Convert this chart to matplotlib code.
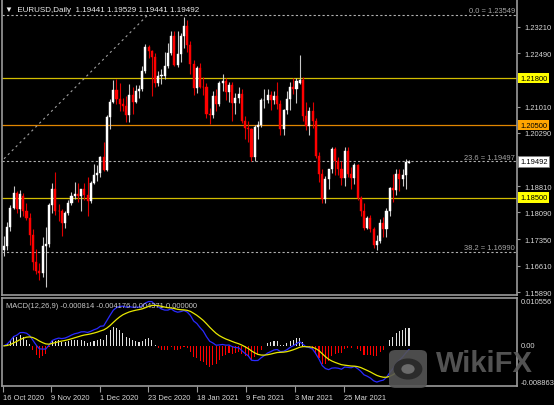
import numpy as np
import matplotlib
matplotlib.use('Agg')
import matplotlib.pyplot as plt
import matplotlib.transforms as mtransforms
from matplotlib.patches import FancyBboxPatch, Circle

plt.rcParams['font.family'] = ['Liberation Sans', 'DejaVu Sans']

# EURUSD daily, 16 Oct 2020 .. 14 Apr 2021
opens = [1.1705, 1.1717, 1.1768, 1.1822, 1.1862, 1.1817, 1.1855, 1.1812, 1.1794, 1.1747,
         1.1673, 1.1646, 1.1642, 1.1717, 1.1722, 1.1828, 1.1874, 1.1813, 1.1812, 1.1779,
         1.1808, 1.1834, 1.1855, 1.1859, 1.1853, 1.1874, 1.1857, 1.1840, 1.1890, 1.1913,
         1.1917, 1.1962, 1.1926, 1.2072, 1.2113, 1.2146, 1.2121, 1.2107, 1.2104, 1.2079,
         1.2133, 1.2113, 1.2145, 1.2150, 1.2200, 1.2266, 1.2255, 1.2237, 1.2165, 1.2187,
         1.2187, 1.2214, 1.2248, 1.2297, 1.2216, 1.2247, 1.2297, 1.2325, 1.2271, 1.2220,
         1.2152, 1.2208, 1.2156, 1.2155, 1.2081, 1.2078, 1.2131, 1.2107, 1.2165, 1.2171,
         1.2141, 1.2162, 1.2112, 1.2125, 1.2137, 1.2061, 1.2042, 1.2038, 1.1963, 1.2045,
         1.2051, 1.2118, 1.2119, 1.2134, 1.2120, 1.2130, 1.2107, 1.2038, 1.2091, 1.2122,
         1.2156, 1.2150, 1.2167, 1.2175, 1.2075, 1.2048, 1.2090, 1.2062, 1.1966, 1.1915,
         1.1847, 1.1900, 1.1928, 1.1985, 1.1952, 1.1929, 1.1903, 1.1978, 1.1914, 1.1904,
         1.1939, 1.1850, 1.1813, 1.1765, 1.1793, 1.1763, 1.1718, 1.1730, 1.1780, 1.1763,
         1.1813, 1.1875, 1.1871, 1.1915, 1.1901, 1.1911, 1.19441]
highs = [1.1744, 1.1782, 1.1829, 1.1881, 1.1867, 1.1871, 1.1862, 1.1834, 1.1807, 1.1763,
         1.1709, 1.1670, 1.1740, 1.1769, 1.1834, 1.1891, 1.1920, 1.1832, 1.1819, 1.1814,
         1.1843, 1.1865, 1.1893, 1.1891, 1.1874, 1.1889, 1.1906, 1.1897, 1.1942, 1.1941,
         1.1965, 1.2003, 1.2077, 1.2122, 1.2175, 1.2178, 1.2166, 1.2124, 1.2130, 1.2163,
         1.2155, 1.2162, 1.2160, 1.2212, 1.2273, 1.2272, 1.2258, 1.2249, 1.2200, 1.2205,
         1.2251, 1.2276, 1.2311, 1.2310, 1.2310, 1.2305, 1.2349, 1.2339, 1.2282, 1.2230,
         1.2212, 1.2222, 1.2183, 1.2166, 1.2097, 1.2145, 1.2150, 1.2173, 1.2190, 1.2180,
         1.2170, 1.2168, 1.2140, 1.2155, 1.2150, 1.2076, 1.2060, 1.2042, 1.2050, 1.2060,
         1.2125, 1.2150, 1.2150, 1.2144, 1.2145, 1.2169, 1.2120, 1.2095, 1.2144, 1.2169,
         1.2180, 1.2180, 1.2243, 1.2184, 1.2113, 1.2100, 1.2114, 1.2070, 1.1977, 1.1928,
         1.1910, 1.1929, 1.1990, 1.1990, 1.1961, 1.1952, 1.1989, 1.1990, 1.1935, 1.1945,
         1.1943, 1.1853, 1.1836, 1.1799, 1.1802, 1.1769, 1.1747, 1.1791, 1.1795, 1.1820,
         1.1880, 1.1914, 1.1928, 1.1928, 1.1929, 1.1956, 1.19529]
lows = [1.1689, 1.1704, 1.1758, 1.1817, 1.1806, 1.1797, 1.1799, 1.1788, 1.1718, 1.1650,
        1.1640, 1.1622, 1.1630, 1.1602, 1.1712, 1.1806, 1.1801, 1.1785, 1.1745, 1.1766,
        1.1803, 1.1829, 1.1845, 1.1838, 1.1814, 1.1842, 1.1800, 1.1834, 1.1886, 1.1895,
        1.1908, 1.1923, 1.1924, 1.2040, 1.2110, 1.2109, 1.2088, 1.2090, 1.2059, 1.2059,
        1.2082, 1.2112, 1.2126, 1.2145, 1.2195, 1.2234, 1.2130, 1.2155, 1.2158, 1.2163,
        1.2177, 1.2207, 1.2244, 1.2212, 1.2210, 1.2224, 1.2264, 1.2253, 1.2192, 1.2132,
        1.2138, 1.2152, 1.2132, 1.2071, 1.2053, 1.2070, 1.2088, 1.2102, 1.2143, 1.2118,
        1.2115, 1.2061, 1.2080, 1.2112, 1.2055, 1.2011, 1.2003, 1.1951, 1.1952, 1.2011,
        1.2045, 1.2096, 1.2110, 1.2092, 1.2108, 1.2095, 1.2023, 1.2022, 1.2080, 1.2091,
        1.2136, 1.2112, 1.2164, 1.2062, 1.2036, 1.2023, 1.2043, 1.1958, 1.1893, 1.1836,
        1.1835, 1.1874, 1.1918, 1.1912, 1.1913, 1.1884, 1.1883, 1.1906, 1.1873, 1.1887,
        1.1842, 1.1800, 1.1761, 1.1762, 1.1754, 1.1711, 1.1704, 1.1724, 1.1740, 1.1742,
        1.1799, 1.1839, 1.1856, 1.1869, 1.1883, 1.1874, 1.19441]
closes = [1.1717, 1.1768, 1.1822, 1.1862, 1.1817, 1.1860, 1.1812, 1.1794, 1.1747, 1.1673,
          1.1646, 1.1642, 1.1717, 1.1722, 1.1828, 1.1874, 1.1813, 1.1812, 1.1779, 1.1808,
          1.1834, 1.1855, 1.1859, 1.1853, 1.1874, 1.1857, 1.1840, 1.1890, 1.1913, 1.1917,
          1.1962, 1.1926, 1.2072, 1.2113, 1.2146, 1.2121, 1.2107, 1.2104, 1.2079, 1.2133,
          1.2113, 1.2145, 1.2150, 1.2200, 1.2266, 1.2255, 1.2237, 1.2165, 1.2187, 1.2187,
          1.2214, 1.2248, 1.2297, 1.2216, 1.2247, 1.2297, 1.2325, 1.2271, 1.2220, 1.2152,
          1.2208, 1.2156, 1.2155, 1.2081, 1.2078, 1.2131, 1.2107, 1.2165, 1.2171, 1.2141,
          1.2162, 1.2112, 1.2125, 1.2137, 1.2061, 1.2042, 1.2038, 1.1963, 1.2045, 1.2051,
          1.2118, 1.2119, 1.2134, 1.2120, 1.2130, 1.2107, 1.2038, 1.2091, 1.2122, 1.2156,
          1.2150, 1.2171, 1.2175, 1.2075, 1.2048, 1.2090, 1.2062, 1.1966, 1.1915, 1.1847,
          1.1900, 1.1928, 1.1985, 1.1952, 1.1929, 1.1903, 1.1978, 1.1914, 1.1904, 1.1939,
          1.1850, 1.1813, 1.1765, 1.1793, 1.1763, 1.1718, 1.1730, 1.1780, 1.1763, 1.1813,
          1.1875, 1.1871, 1.1915, 1.1901, 1.1911, 1.1947, 1.19492]

date_labels = ['16 Oct 2020', '9 Nov 2020', '1 Dec 2020', '23 Dec 2020',
               '18 Jan 2021', '9 Feb 2021', '3 Mar 2021', '25 Mar 2021']
date_pos = [-0.3, 14.6, 29.9, 44.8, 60.0, 75.3, 90.5, 105.8]

price_ticks = [1.23210, 1.22490, 1.21010, 1.20290, 1.18810, 1.18090, 1.17350, 1.16610, 1.15890]
level_prices = [1.21800, 1.20500, 1.18500]
level_line_colors = ['#d2bd00', '#e08600', '#d2bd00']
level_box_colors = ['#ffff00', '#ffa500', '#ffff00']
fib_prices = [1.23549, 1.19497, 1.16990]
fib_names = ['0.0', '23.6', '38.2']
fib_trend_x = [0.0, 44.8]
fib_trend_y = [1.1957, 1.23549]
last_price = 1.19492
macd_legend = 'MACD(12,26,9) -0.000814 -0.004176 0.004371 0.000000'
macd_top, macd_bottom = 0.010556, -0.008863
osma_scale = 1.5  # histogram amplitude as shown in the panel


def ema(values, period):
    k = 2.0 / (period + 1)
    out = [values[0]]
    for v in values[1:]:
        out.append(out[-1] + k * (v - out[-1]))
    return np.array(out)


o = np.array(opens)
h = np.array(highs)
l = np.array(lows)
c = np.array(closes)
x = np.arange(len(c))

macd = ema(c, 12) - ema(c, 26)
signal = ema(macd, 9)
hist = (macd - signal) * osma_scale

W, H = 554, 406
fig = plt.figure(figsize=(W / 100, H / 100), dpi=100, facecolor='black')
ax = fig.add_axes([2 / W, 1 - 296 / H, 515 / W, 296 / H], facecolor='black')
ax2 = fig.add_axes([2 / W, 1 - 387 / H, 515 / W, 88 / H], facecolor='black')

grey = '#9a9a9a'
txt = '#d8d8d8'
fs = 5.4

# candles
up = c >= o
body_col = np.where(up, '#ffffff', '#ff0000')
wick_col = np.where(up, '#c8c8c8', '#e00000')
ax.vlines(x, l, h, colors=wick_col, linewidth=0.8, zorder=3)
ax.bar(x, np.maximum(np.abs(c - o), 0.00006), bottom=np.minimum(o, c), width=0.66,
       color=body_col, edgecolor=body_col, linewidth=0.3, zorder=4)

xlim = (-0.62, 159.6)
ax.set_xlim(*xlim)
ax.set_ylim(1.15808, 1.23983)

for p, lc in zip(level_prices, level_line_colors):
    ax.axhline(p, color=lc, linewidth=0.9, zorder=2)
for p in fib_prices:
    ax.axhline(p, color='#b0b0b0', linewidth=0.8, linestyle=(0, (2, 2)), zorder=2)
ax.plot(fib_trend_x, fib_trend_y, color='#a0a0a0', linewidth=0.8, linestyle=(0, (2, 3)), zorder=2)

for p, name in zip(fib_prices, fib_names):
    ax.text(0.996, p + 0.0002, f'{name} = {p:.5f}', transform=ax.get_yaxis_transform(),
            ha='right', va='bottom', color='#a8a8a8', fontsize=fs)

ax.yaxis.tick_right()
ax.set_yticks(price_ticks)
ax.set_yticklabels([f'{p:.5f}' for p in price_ticks])
ax.tick_params(axis='y', colors=grey, labelcolor=txt, labelsize=fs, length=2, width=0.8, pad=3)
ax.set_xticks([])
ax.spines['top'].set_visible(False)
for s in ['left', 'right', 'bottom']:
    ax.spines[s].set_color(grey)
    ax.spines[s].set_linewidth(1.2)

tr = mtransforms.blended_transform_factory(ax.transAxes, ax.transData)
for p, bc in zip(level_prices, level_box_colors):
    ax.text(1.006, p, f'{p:.5f}', transform=tr, ha='left', va='center', fontsize=fs,
            color='black', bbox=dict(boxstyle='square,pad=0.25', fc=bc, ec='none'), zorder=10)
ax.text(1.006, last_price, f'{last_price:.5f}', transform=tr, ha='left', va='center', fontsize=fs,
        color='black', bbox=dict(boxstyle='square,pad=0.25', fc='white', ec='#808080', lw=0.5), zorder=10)

fig.text(5 / W, 1 - 10 / H, '\u25bc  EURUSD,Daily  1.19441 1.19529 1.19441 1.19492',
         ha='left', va='center', color='#ececec', fontsize=5.8)

# MACD panel
hist_col = np.where(hist >= 0, '#e0e0e0', '#ff0000')
ax2.bar(x, hist, width=0.35, color=hist_col, linewidth=0, zorder=2)
ax2.plot(x, macd, color='#2a2aff', linewidth=0.9, zorder=3)
ax2.plot(x, signal, color='#e8e800', linewidth=0.9, zorder=4)
ax2.set_xlim(*xlim)
ax2.set_ylim(macd_bottom, macd_top)
ax2.set_yticks([])
for s in ax2.spines.values():
    s.set_color(grey)
    s.set_linewidth(1.2)
ax2.set_xticks(date_pos)
ax2.set_xticklabels(date_labels)
for lab in ax2.get_xticklabels():
    lab.set_ha('left')
ax2.tick_params(axis='x', colors=grey, labelcolor=txt, labelsize=fs, length=4, width=0.8, pad=2)

tr2 = mtransforms.blended_transform_factory(ax2.transAxes, ax2.transData)
ax2.text(1.008, macd_top, f'{macd_top:.6f}', transform=tr2, ha='left', va='top', color=txt, fontsize=fs)
ax2.text(1.008, 0, '0.00', transform=tr2, ha='left', va='center', color=txt, fontsize=fs)
ax2.text(1.008, macd_bottom, f'{macd_bottom:.6f}', transform=tr2, ha='left', va='bottom', color=txt, fontsize=fs)
ax2.text(0.008, 0.91, macd_legend, transform=ax2.transAxes, ha='left', va='center',
         color='#c8c8c8', fontsize=fs)

# WikiFX watermark
px = fig.transFigure
icon = FancyBboxPatch((389 / W, 1 - 389 / H), 38 / W, 38 / H, boxstyle='round,pad=0,rounding_size=0.012',
                      transform=px, fc='#555555', ec='none', alpha=0.9, zorder=20)
fig.patches.append(icon)
fig.patches.append(Circle((408 / W, 1 - 370 / H), 0.026, transform=px, fc='#2b2b2b', ec='none', zorder=21))
fig.patches.append(Circle((408 / W, 1 - 370 / H), 0.012, transform=px, fc='#6a6a6a', ec='none', zorder=22))
fig.text(436 / W, 1 - 364 / H, 'WikiFX', ha='left', va='center', fontsize=21, fontweight='bold',
         color='#5c5c5c', alpha=0.9, zorder=20)

fig.savefig('out.png', dpi=100, facecolor='black')
